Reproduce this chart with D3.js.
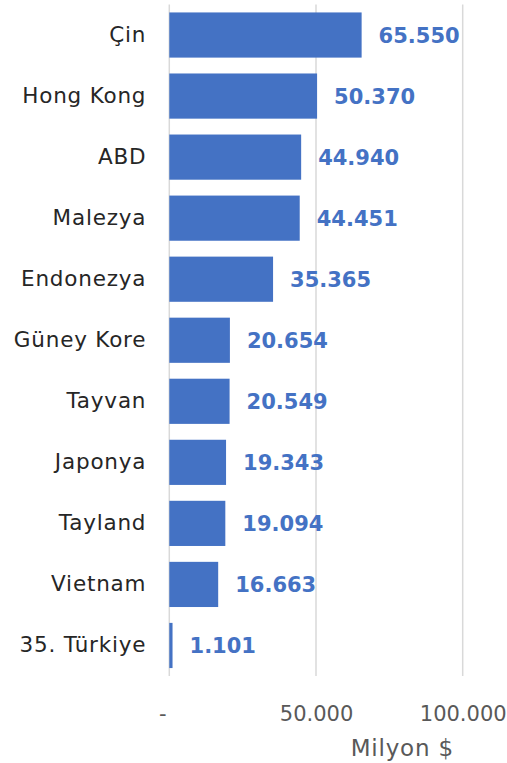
<!DOCTYPE html>
<html>
<head>
<meta charset="utf-8">
<script src="https://cdn.jsdelivr.net/npm/d3@7"></script>
<style>
  body { margin: 0; background: #fff; }
  text { font-family: "DejaVu Sans", sans-serif; }
</style>
</head>
<body>
<div id="chart"></div>
<script>
// data
var countries = ["Çin", "Hong Kong", "ABD", "Malezya", "Endonezya", "Güney Kore", "Tayvan", "Japonya", "Tayland", "Vietnam", "35. Türkiye"];
var values = [65550, 50370, 44940, 44451, 35365, 20654, 20549, 19343, 19094, 16663, 1101];
var tickValues = [0, 50000, 100000];
var tickLabels = ["-", "50.000", "100.000"];
var axisTitle = "Milyon $";

var svgWidth = 507;
var svgHeight = 763;

var margin = { top: 4.5, bottom: 87, left: 169.3, right: 44 };
var width = svgWidth - margin.left - margin.right;
var height = svgHeight - margin.top - margin.bottom;

var svg = d3.select("#chart")
  .append("svg")
  .attr("width", svgWidth)
  .attr("height", svgHeight);

var chartGroup = svg.append("g")
  .attr("transform", `translate(${margin.left}, ${margin.top})`);

var data = countries.map(function(c, i) { return { name: c, value: values[i] }; });

var xScale = d3.scaleLinear()
  .domain([0, 100000])
  .range([0, 293.4]);

var yScale = d3.scaleBand()
  .domain(countries)
  .range([0, height])
  .paddingInner(0.26)
  .paddingOuter(0.13);

// gridlines
chartGroup.selectAll(".grid")
  .data(tickValues)
  .enter()
  .append("line")
  .attr("x1", d => xScale(d))
  .attr("x2", d => xScale(d))
  .attr("y1", 0)
  .attr("y2", height)
  .attr("stroke", "#d9d9d9")
  .attr("stroke-width", 1.5);

// bars
chartGroup.selectAll(".bar")
  .data(data)
  .enter()
  .append("rect")
  .attr("x", xScale(0))
  .attr("y", d => yScale(d.name))
  .attr("width", d => Math.max(xScale(d.value), 2))
  .attr("height", yScale.bandwidth())
  .attr("fill", "#4472c4");

// value labels
var fmt = d3.formatLocale({ decimal: ",", thousands: ".", grouping: [3], currency: ["", ""] }).format(",d");
chartGroup.selectAll(".valueText")
  .data(data)
  .enter()
  .append("text")
  .attr("x", d => xScale(d.value) + 17)
  .attr("y", d => yScale(d.name) + yScale.bandwidth() / 2)
  .attr("dy", "0.36em")
  .attr("fill", "#4472c4")
  .attr("font-weight", "bold")
  .attr("font-size", "21px")
  .text(d => fmt(d.value));

// category axis
var leftAxis = d3.axisLeft(yScale).tickSize(0).tickPadding(23);
var yAxisG = chartGroup.append("g").call(leftAxis);
yAxisG.select(".domain").remove();
yAxisG.selectAll("text")
  .attr("fill", "#262626")
  .attr("font-size", "21.5px")
  .attr("letter-spacing", "0.8px")
  .style("font-family", "DejaVu Sans, sans-serif");

// value axis
var bottomAxis = d3.axisBottom(xScale)
  .tickValues(tickValues)
  .tickSize(0)
  .tickPadding(30)
  .tickFormat((d, i) => tickLabels[i]);
var xAxisG = chartGroup.append("g")
  .attr("transform", `translate(0, ${height})`)
  .call(bottomAxis);
xAxisG.select(".domain").remove();
xAxisG.selectAll("text")
  .attr("fill", "#595959")
  .attr("font-size", "21px")
  .style("font-family", "DejaVu Sans, sans-serif");
xAxisG.selectAll(".tick").filter((d, i) => i === 0).select("text").attr("dx", "-7");

chartGroup.append("text")
  .attr("x", 233)
  .attr("y", height + 80)
  .attr("text-anchor", "middle")
  .attr("fill", "#595959")
  .attr("font-size", "23px")
  .attr("letter-spacing", "0.8px")
  .text(axisTitle);
</script>
</body>
</html>
